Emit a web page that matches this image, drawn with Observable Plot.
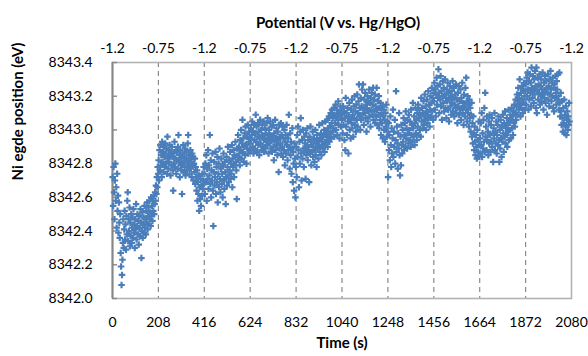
<!DOCTYPE html>
<html>
<head>
<meta charset="utf-8">
<script src="https://cdn.jsdelivr.net/npm/d3@7"></script>
<script src="https://cdn.jsdelivr.net/npm/@observablehq/plot@0.6"></script>
<style>
  html, body { margin: 0; padding: 0; background: #fff; }
  #chart { width: 588px; height: 356px; }
</style>
</head>
<body>
<div id="chart"></div>
<script>
// Tick values and labels
const timeTicks = [0, 208, 416, 624, 832, 1040, 1248, 1456, 1664, 1872, 2080];
const potentialTickLabels = ["-1.2", "-0.75", "-1.2", "-0.75", "-1.2", "-0.75", "-1.2", "-0.75", "-1.2", "-0.75", "-1.2"];
const edgeTicks = [8342.0, 8342.2, 8342.4, 8342.6, 8342.8, 8343.0, 8343.2, 8343.4];

// Ni edge position readings, in eV above 8342.0 eV, one every 2 s,
// one array per potential half-cycle (first reading 1 s after the half-cycle start)
const edgeBase = 8342.0;
const sampleInterval = 2;
const half0 = [.72,.55,.78,.63,.47,.70,.80,.58,.66,.42, .74,.52,.61,.39,.57,.45,.36,.50,.27,.19,
  .08,.14,.23,.33,.47,.30,.41,.52,.35,.44, .29,.49,.38,.58,.63,.34,.47,.40,.54,.31,
  .45,.37,.50,.33,.42,.48,.36,.53,.39,.44, .30,.47,.41,.56,.35,.43,.50,.38,.46,.32,
  .49,.42,.37,.53,.45,.24,.40,.51,.36,.44, .48,.39,.55,.42,.47,.38,.52,.45,.57,.41,
  .49,.54,.44,.58,.47,.51,.43,.60,.49,.55, .46,.58,.52,.61,.50,.56,.63,.58,.67,.62,
  .72,.66,.78,.74];
const half1 = [.82,.70,.88,.76,.91,.79,.85,.72,.93,.81, .87,.75,.90,.84,.78,.92,.86,.80,.89,.74,
  .96,.83,.77,.88,.81,.91,.85,.73,.87,.79, .90,.84,.76,.64,.86,.80,.93,.78,.83,.88,
  .74,.82,.87,.77,.90,.97,.81,.85,.72,.88, .79,.83,.76,.62,.86,.80,.91,.75,.84,.78,
  .89,.73,.82,.87,.76,.81,.92,.97,.85,.79, .74,.83,.88,.77,.81,.72,.86,.79,.84,.70,
  .80,.75,.83,.68,.78,.72,.64,.76,.58,.69, .62,.73,.52,.66,.59,.71,.55,.67,.61,.74,
  .65,.70,.78,.68];
const half2 = [.74,.62,.80,.69,.85,.58,.77,.71,.88,.65, .79,.73,.97,.68,.82,.60,.76,.70,.86,.64,
  .43,.75,.81,.67,.72,.87,.62,.78,.69,.84, .57,.74,.80,.66,.89,.71,.63,.77,.83,.68,
  .74,.60,.79,.86,.70,.65,.81,.75,.56,.72, .84,.67,.78,.90,.73,.69,.82,.76,.87,.71,
  .80,.74,.91,.66,.83,.78,.88,.72,.85,.79, .93,.81,.76,.59,.89,.84,.97,.82,.90,.86,
  .79,.94,.88,1.00,.83,.92,1.06,.87,.95,.81, .90,.98,.85,1.02,.91,.80,.96,.89,1.03,.86,
  .93,.99,.88,.95];
const half3 = [.92,1.01,.88,.97,1.05,.90,.99,.86,1.03,.94, .89,.98,1.09,.93,1.02,.87,.96,1.04,.91,.99,
  .85,.95,1.06,.92,1.00,.88,.97,1.03,.90,.96, 1.05,.87,.94,1.01,.89,.98,.93,1.04,.91,1.07,
  .95,.86,1.00,.92,.97,1.05,.89,.94,1.02,.87, .96,1.03,.90,.82,.98,.93,1.06,.88,.95,1.01,
  .91,.85,.99,.94,.75,1.03,.89,.96,.92,1.04, .86,.97,.90,1.02,.84,.95,.88,1.00,.79,.93,
  .97,.86,1.03,.91,.82,.95,.88,1.09,.90,.77, .98,.85,.93,.74,.89,1.01,.69,.87,.80,.64,
  .92,.83,.60,.78];
const half4 = [.90,.72,.97,.84,1.02,.88,.66,.93,.80,.99, 1.07,.86,.70,.94,.83,1.00,.89,.78,.96,.87,
  .92,.71,.98,.85,.90,1.01,.82,.94,.88,.69, .96,.86,1.02,.91,.79,.93,.87,.99,.84,.90,
  .95,.81,.88,1.00,.85,.92,.78,.97,.89,.94, .83,.91,1.03,.87,.95,.90,.98,.85,.93,1.04,
  .89,.96,.91,1.00,.87,.97,1.05,.92,.99,.94, 1.06,.90,1.01,.96,1.08,.93,1.02,.98,1.10,.95,
  1.04,1.12,.99,1.07,1.01,1.13,.96,1.09,1.04,1.15, 1.00,1.08,1.12,.97,1.06,1.17,1.03,1.10,.95,1.08,
  1.14,1.02,1.11,1.06];
const half5 = [1.09,.98,1.14,1.03,1.11,.94,1.07,.88,1.19,1.02, 1.10,.97,1.13,1.05,.86,1.08,1.16,1.00,1.06,.95,
  1.12,1.04,1.18,1.01,1.09,.96,1.14,1.07,1.20,1.03, 1.11,.99,1.15,1.06,1.21,1.02,1.10,1.17,1.27,1.08,
  1.13,1.00,1.19,1.06,1.14,1.24,1.09,1.27,1.12,1.03, 1.18,1.10,1.22,1.07,1.15,.99,1.13,1.20,1.05,1.17,
  1.11,1.24,1.08,1.16,1.02,1.19,1.12,1.22,1.09,1.15, 1.25,1.06,1.18,1.11,1.21,1.04,1.14,1.08,1.25,1.12,
  1.03,1.17,1.09,1.20,1.01,1.13,1.06,1.16,.97,1.10, 1.04,1.14,.95,1.08,1.12,1.00,1.06,.93,1.10,1.02,
  1.15,.96,1.05,.99];
const half6 = [.72,1.04,.88,.97,.82,1.08,.91,.78,1.01,.86, .95,1.12,.84,.99,.90,1.06,.80,.94,1.23,.87,
  1.02,.92,.77,.98,.89,1.10,.85,.73,.96,.79, 1.03,.91,.86,1.00,.93,1.07,.88,.97,1.04,.90,
  1.11,.95,1.01,.89,1.06,.98,.92,1.09,1.00,.94, 1.05,.90,1.12,.97,1.03,.93,1.16,1.01,.96,1.08,
  .91,1.04,1.13,.98,1.06,.94,1.10,1.02,1.15,.97, 1.07,1.12,1.00,1.09,.96,1.19,1.05,1.13,1.01,1.10,
  1.17,1.03,1.08,1.21,1.06,1.14,1.00,1.11,1.18,1.04, 1.09,1.23,1.07,1.15,1.02,1.12,1.20,1.08,1.16,1.25,
  1.11,1.19,1.06,1.22];
const half7 = [1.17,1.28,1.12,1.24,1.08,1.21,1.31,1.15,1.26,1.19, 1.36,1.22,1.10,1.27,1.18,1.32,1.14,1.23,1.06,1.20,
  1.29,1.16,1.25,1.11,1.21,1.30,1.13,1.19,1.07,1.24, 1.17,1.28,1.12,1.22,1.05,1.18,1.26,1.14,1.20,1.09,
  1.23,1.16,1.29,1.11,1.19,1.25,1.08,1.15,1.21,1.13, 1.27,1.10,1.18,1.04,1.22,1.14,1.26,1.09,1.17,1.12,
  1.24,1.06,1.19,1.13,1.28,1.10,1.16,1.03,1.21,1.14, 1.08,1.25,1.12,1.31,1.17,1.05,1.20,1.10,1.15,1.02,
  1.18,1.07,1.13,.99,1.09,1.16,.96,1.04,.92,1.08, .98,.88,1.02,.93,.85,.97,.90,.83,1.00,.94,
  .87,1.05,.91,.84];
const half8 = [.95,.86,1.04,.91,1.10,.84,.98,.89,1.06,.93, 1.13,.87,1.22,.96,1.02,.88,1.08,.94,.99,.85,
  1.05,.92,1.09,.97,.87,1.03,.93,1.07,.90,.98, .81,1.01,.95,1.10,.88,.99,.92,1.05,.86,.97,
  1.03,.91,1.08,.94,.81,1.00,.89,1.06,.95,.84, 1.02,.93,1.09,.98,.87,1.04,.96,1.11,.92,1.01,
  .97,1.07,.90,1.03,.99,1.12,.94,1.05,1.00,1.09, .95,1.06,1.13,1.01,1.08,.97,1.11,1.04,1.15,1.02,
  1.10,1.18,1.06,1.14,1.21,1.09,1.17,1.25,1.12,1.19, 1.30,1.15,1.08,1.22,1.13,1.26,1.18,1.10,1.24,1.16,
  1.28,1.20,1.12,1.23];
const half9 = [1.27,1.15,1.31,1.20,1.34,1.24,1.12,1.29,1.18,1.33, 1.22,1.28,1.14,1.37,1.25,1.19,1.32,1.23,1.16,1.30,
  1.21,1.35,1.26,1.13,1.37,1.10,1.24,1.31,1.18,1.27, 1.22,1.33,1.15,1.26,1.20,1.30,1.17,1.24,1.34,1.21,
  1.12,1.28,1.19,1.32,1.23,1.16,1.29,1.25,1.09,1.22, 1.33,1.18,1.26,1.14,1.30,1.21,1.35,1.24,1.17,1.28,
  1.20,1.31,1.13,1.25,1.11,1.27,1.19,1.32,1.22,1.15, 1.29,1.24,1.18,1.33,1.20,1.12,1.34,1.16,1.08,1.22,
  1.11,1.03,1.17,1.07,.99,1.13,1.04,1.18,.98,1.09, 1.02,1.14,.97,1.06,1.11,1.00,1.08,1.03,1.16,1.05];

const halfCycles = [half0, half1, half2, half3, half4, half5, half6, half7, half8, half9];
const readings = halfCycles.flatMap((values, k) =>
  values.map((v, i) => ({time: timeTicks[k] + 1 + sampleInterval * i, edge: edgeBase + v}))
);

const chart = Plot.plot({
  width: 588,
  height: 356,
  marginLeft: 112,
  marginRight: 17,
  marginTop: 62,
  marginBottom: 58,
  style: {fontFamily: "Lato, 'Noto Sans', sans-serif", fontSize: "14px", color: "#000", background: "#fff", overflow: "visible"},
  x: {domain: [0, 2080], axis: null},
  y: {domain: [8342.0, 8343.4], axis: null},
  marks: [
    Plot.ruleX(timeTicks.slice(1, -1), {stroke: "#8c8c8c", strokeWidth: 1.2, strokeDasharray: "5,4"}),
    Plot.frame({stroke: "#b3b3b3", strokeWidth: 1.6}),
    Plot.ruleX([0], {stroke: "#878787", strokeWidth: 2}),
    Plot.ruleY(edgeTicks, {x1: 0, x2: 23, stroke: "#878787", strokeWidth: 1.4}),
    Plot.dot(readings, {x: "time", y: "edge", symbol: "cross", r: 2.75, fill: "#4a7ebb"}),
    Plot.axisX(timeTicks, {anchor: "bottom", tickSize: 0, tickPadding: 19, label: null, tickFormat: d => String(d)}),
    Plot.axisX(timeTicks, {anchor: "top", tickSize: 0, tickPadding: 10, label: null,
      tickFormat: d => potentialTickLabels[timeTicks.indexOf(d)]}),
    Plot.axisY(edgeTicks, {anchor: "left", tickSize: 0, tickPadding: 20, label: null, tickFormat: d => d.toFixed(1)}),
    Plot.text(["Potential (V vs. Hg/HgO)"], {frameAnchor: "top", dy: -45, dx: -4, fontWeight: "bold", fontSize: 15}),
    Plot.text(["Time (s)"], {frameAnchor: "bottom", dy: 49, fontWeight: "bold", fontSize: 15}),
    Plot.text(["Ni egde position (eV)"], {frameAnchor: "left", dx: -94, rotate: -90, fontWeight: "bold", fontSize: 15})
  ]
});
document.getElementById("chart").appendChild(chart);
</script>
</body>
</html>
